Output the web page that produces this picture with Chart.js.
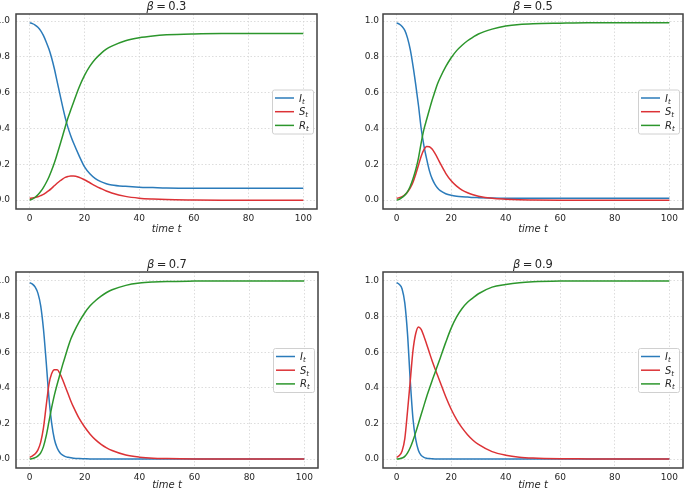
<!DOCTYPE html>
<html>
<head>
<meta charset="utf-8">
<script src="https://cdn.jsdelivr.net/npm/chart.js@4.4.0/dist/chart.umd.min.js"></script>
<style>
  html, body { margin: 0; padding: 0; background: #fff; }
  #fig { position: relative; width: 685px; height: 489px; overflow: hidden; background: #fff; }
  #fig canvas { position: absolute; }
</style>
</head>
<body>
<div id="fig">
  <canvas id="c0"></canvas>
  <canvas id="c1"></canvas>
  <canvas id="c2"></canvas>
  <canvas id="c3"></canvas>
</div>
<script>
// time points
const times = [0,1,2,3,4,5,6,7,8,9,10,11,12,13,14,15,16,18,20,22,24,26,28,30,35,40,45,50,60,70,80,100];
const xTicks = [0, 20, 40, 60, 80, 100];
const yTicks = [0, 0.2, 0.4, 0.6, 0.8, 1.0];
const betas = ['0.3', '0.5', '0.7', '0.9'];
const seriesNames = ['I', 'S', 'R'];

// beta = 0.3
const I_03 = [.990,.986,.978,.965,.947,.920,.885,.845,.795,.735,.665,.595,.525,.460,.405,.360,.320,.250,.187,.147,.120,.103,.092,.085,.077,.072,.070,.068,.067,.067,.067,.067];
const S_03 = [.010,.012,.015,.019,.025,.032,.042,.053,.066,.080,.094,.107,.118,.127,.132,.135,.135,.128,.114,.097,.080,.065,.051,.040,.021,.011,.006,.003,.001,0,0,0];
const R_03 = [0,.006,.016,.030,.048,.070,.097,.128,.165,.207,.255,.305,.357,.410,.460,.503,.545,.628,.695,.748,.788,.818,.843,.860,.890,.907,.917,.923,.928,.930,.930,.930];

// beta = 0.5
const I_05 = [.990,.983,.970,.948,.905,.840,.750,.645,.530,.400,.305,.230,.165,.120,.090,.068,.053,.036,.027,.022,.019,.017,.015,.014,.012,.011,.011,.010,.010,.010,.010,.010];
const S_05 = [.010,.014,.020,.030,.045,.068,.100,.145,.195,.245,.282,.300,.298,.285,.262,.235,.205,.150,.108,.078,.056,.041,.030,.022,.010,.005,.002,.001,0,0,0,0];
const R_05 = [0,.005,.015,.028,.048,.078,.120,.170,.235,.320,.395,.450,.505,.558,.605,.650,.685,.745,.795,.835,.865,.890,.910,.928,.955,.972,.981,.985,.988,.990,.990,.990];

// beta = 0.7
const I_07 = [.990,.982,.965,.930,.860,.730,.545,.345,.200,.110,.062,.036,.022,.014,.010,.007,.005,.003,.002,.001,.001,0,0,0,0,0,0,0,0,0,0,0];
const S_07 = [.010,.018,.030,.052,.095,.175,.300,.420,.480,.502,.502,.480,.445,.405,.365,.325,.290,.228,.180,.140,.108,.083,.063,.048,.023,.011,.005,.003,.001,0,0,0];
const R_07 = [0,.003,.008,.018,.035,.070,.130,.210,.290,.360,.420,.475,.530,.580,.630,.675,.710,.770,.820,.860,.890,.915,.935,.950,.975,.988,.994,.997,.999,1,1,1];

// beta = 0.9
const I_09 = [.990,.980,.955,.875,.700,.440,.225,.110,.048,.021,.010,.005,.003,.002,.001,0,0,0,0,0,0,0,0,0,0,0,0,0,0,0,0,0];
const S_09 = [.010,.020,.045,.115,.270,.440,.610,.705,.742,.728,.690,.645,.598,.552,.510,.470,.430,.350,.280,.222,.175,.137,.106,.082,.042,.022,.011,.006,.002,.001,0,0];
const R_09 = [0,.002,.006,.015,.035,.065,.105,.150,.200,.250,.300,.350,.395,.440,.482,.525,.568,.655,.735,.798,.845,.880,.905,.928,.965,.980,.990,.995,.999,1,1,1];

const panelData = [[I_03, S_03, R_03], [I_05, S_05, R_05], [I_07, S_07, R_07], [I_09, S_09, R_09]];
const colors = ['#2b7bba', '#dc3236', '#2c962c'];

// frame of each subplot in page pixels: left, top, right, bottom
const frames = [
  { l: 16, t: 14, r: 317, b: 209, padT: 14, padB: 26, padR: 10, yMin: -0.0495, yMax: 1.0395, tickPad: 6, xlab: 19 },
  { l: 383, t: 14, r: 683, b: 209, padT: 14, padB: 26, padR: 2, yMin: -0.0495, yMax: 1.0395, tickPad: 4, xlab: 19 },
  { l: 16, t: 272, r: 318, b: 468, padT: 30, padB: 21, padR: 10, yMin: -0.05, yMax: 1.05, tickPad: 6, xlab: 16.5 },
  { l: 383, t: 272, r: 683, b: 468, padT: 30, padB: 21, padR: 2, yMin: -0.05, yMax: 1.05, tickPad: 4, xlab: 16.5 }
];
const padL = 40;
const FONT = '"DejaVu Sans", sans-serif';

// draw a row of text pieces centred on cx
function drawPieces(ctx, pieces, cx, y) {
  let w = 0;
  pieces.forEach(p => { ctx.font = p.font; w += ctx.measureText(p.text).width; });
  let x = cx - w / 2;
  ctx.textAlign = 'left';
  ctx.textBaseline = 'alphabetic';
  pieces.forEach(p => {
    ctx.font = p.font;
    ctx.fillText(p.text, x, y + (p.dy || 0));
    x += ctx.measureText(p.text).width;
  });
}

const decor = {
  id: 'decor',
  afterDraw(chart, args, opts) {
    const ctx = chart.ctx;
    const a = chart.chartArea;
    ctx.save();
    // frame
    ctx.strokeStyle = '#404040';
    ctx.lineWidth = 1.5;
    ctx.strokeRect(a.left, a.top, a.right - a.left, a.bottom - a.top);

    // title
    ctx.fillStyle = '#262626';
    const cx = (a.left + a.right) / 2;
    drawPieces(ctx, [
      { text: 'β', font: 'italic 11.5px ' + FONT },
      { text: '\u2009=\u2009' + opts.beta, font: '11.5px ' + FONT }
    ], cx, a.top - 4.5);

    // x label
    drawPieces(ctx, [{ text: 'time t', font: 'italic 10px ' + FONT }], cx, a.bottom + opts.xlab + 3.5);

    // legend
    const bw = 41, bh = 44;
    const bx = a.right - 4 - bw;
    const by = (a.top + a.bottom) / 2 - bh / 2;
    ctx.fillStyle = 'rgba(255,255,255,0.85)';
    ctx.strokeStyle = '#d0d0d0';
    ctx.lineWidth = 1;
    ctx.beginPath();
    ctx.roundRect(bx + 0.5, by + 0.5, bw, bh, 2);
    ctx.fill();
    ctx.stroke();
    seriesNames.forEach((name, i) => {
      const ly = by + 8.5 + i * 13.7;
      ctx.strokeStyle = colors[i];
      ctx.lineWidth = 1.5;
      ctx.beginPath();
      ctx.moveTo(bx + 3, ly);
      ctx.lineTo(bx + 22, ly);
      ctx.stroke();
      ctx.fillStyle = '#262626';
      ctx.textAlign = 'left';
      ctx.textBaseline = 'alphabetic';
      ctx.font = 'italic 10px ' + FONT;
      ctx.fillText(name, bx + 27, ly + 3.5);
      const w = ctx.measureText(name).width;
      ctx.font = 'italic 7px ' + FONT;
      ctx.fillText('t', bx + 27 + w, ly + 5.5);
    });
    ctx.restore();
  }
};

frames.forEach((f, k) => {
  const cv = document.getElementById('c' + k);
  const w = f.r - f.l + padL + f.padR;
  const h = f.b - f.t + f.padT + f.padB;
  cv.width = w; cv.height = h;
  cv.style.width = w + 'px'; cv.style.height = h + 'px';
  cv.style.left = (f.l - padL) + 'px';
  cv.style.top = (f.t - f.padT) + 'px';

  const datasets = panelData[k].map((vals, i) => ({
    label: seriesNames[i] + 't',
    data: times.map((t, j) => ({ x: t, y: vals[j] })),
    borderColor: colors[i],
    borderWidth: 1.5,
    pointRadius: 0,
    fill: false,
    cubicInterpolationMode: 'monotone',
    order: 3 - i
  }));

  new Chart(cv.getContext('2d'), {
    type: 'line',
    data: { datasets },
    plugins: [decor],
    options: {
      responsive: false,
      animation: false,
      devicePixelRatio: 1,
      layout: { padding: { left: 0, top: f.padT, right: f.padR, bottom: 0 } },
      plugins: {
        legend: { display: false },
        tooltip: { enabled: false },
        decor: { beta: betas[k], xlab: f.xlab }
      },
      scales: {
        x: {
          type: 'linear',
          min: -5, max: 105,
          afterBuildTicks: s => { s.ticks = xTicks.map(v => ({ value: v })); },
          afterFit: s => { s.height = f.padB; },
          grid: { color: '#d4d4d4', lineWidth: 0.8, drawTicks: false },
          border: { display: false, dash: [1.5, 2] },
          ticks: { padding: 4, color: '#262626', font: { family: FONT, size: 9 }, maxRotation: 0, callback: v => String(v) }
        },
        y: {
          type: 'linear',
          min: f.yMin, max: f.yMax,
          afterBuildTicks: s => { s.ticks = yTicks.map(v => ({ value: v })); },
          afterFit: s => { s.width = padL; },
          grid: { color: '#d4d4d4', lineWidth: 0.8, drawTicks: false },
          border: { display: false, dash: [1.5, 2] },
          ticks: { padding: f.tickPad, color: '#262626', font: { family: FONT, size: 9 }, callback: v => v.toFixed(1) }
        }
      }
    }
  });
});
</script>
</body>
</html>
